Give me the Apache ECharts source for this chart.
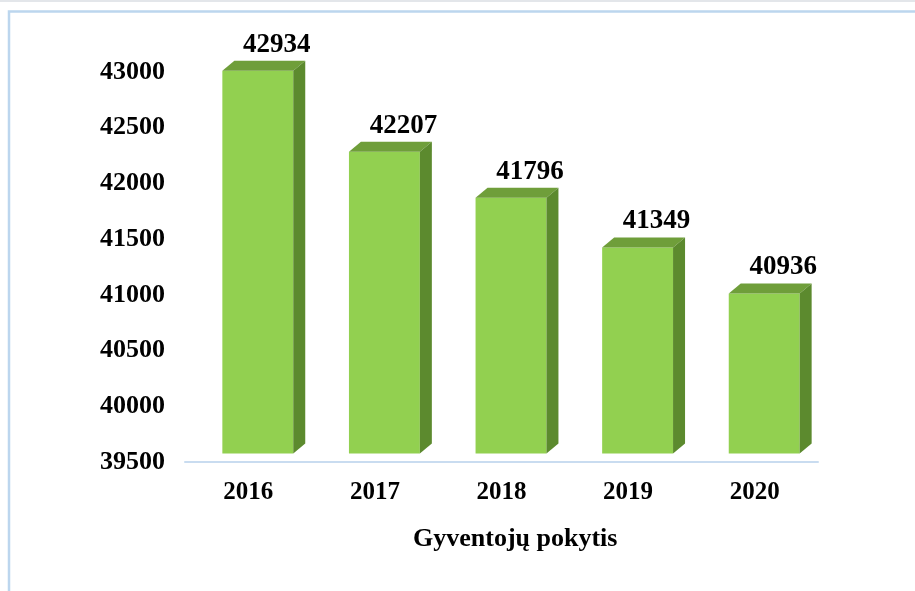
<!DOCTYPE html>
<html>
<head>
<meta charset="utf-8">
<script src="https://cdn.jsdelivr.net/npm/echarts@6/dist/echarts.min.js"></script>
<style>
  html, body { margin: 0; padding: 0; background: #fff; }
  #chart { width: 915px; height: 591px; }
</style>
</head>
<body>
<div id="chart"></div>
<script>
// Duomenys
const years = ['2016', '2017', '2018', '2019', '2020'];
const population = [42934, 42207, 41796, 41349, 40936];
const axisMin = 39500;
const axisMax = 43000;
const axisStep = 500;

const FONT = '"Liberation Serif", "Times New Roman", serif';

// 3D stulpelio piešimas (priekis, viršus, šonas)
function renderBar3d(params, api) {
    const idx = api.value(0);
    const val = api.value(1);
    const top = api.coord([idx, val]);
    const base = api.coord([idx, axisMin]);
    const bw = api.size([1, 0])[0] * 0.56;
    const lift = 8.5, dx = 12, dy = 10;
    const cx = top[0] + 9.5;
    const L = cx - bw / 2, R = cx + bw / 2;
    const T = top[1] - lift, B = base[1] - lift;

    return {
        type: 'group',
        children: [
            {
                type: 'rect',
                shape: { x: L, y: T, width: bw, height: B - T },
                style: { fill: '#92d050' }
            },
            {
                type: 'polygon',
                shape: { points: [[L, T], [R, T], [R + dx, T - dy], [L + dx, T - dy]] },
                style: { fill: '#6f9e3a' }
            },
            {
                type: 'polygon',
                shape: { points: [[R, T], [R + dx, T - dy], [R + dx, B - dy], [R, B]] },
                style: { fill: '#5c8a2e' }
            },
            {
                type: 'text',
                style: {
                    x: cx + 19, y: T - 26,
                    text: String(val),
                    fill: '#000',
                    font: 'bold 27px ' + FONT,
                    align: 'center', verticalAlign: 'middle'
                }
            }
        ]
    };
}

const chart = echarts.init(document.getElementById('chart'));

chart.setOption({
    backgroundColor: '#fff',
    animation: false,
    title: {
        text: 'Gyventojų pokytis',
        left: 408,
        top: 521,
        textStyle: { fontFamily: FONT, fontWeight: 'bold', fontSize: 26, color: '#000' }
    },
    grid: { left: 185, right: 97, top: 72, bottom: 129 },
    xAxis: {
        type: 'category',
        data: years,
        axisLine: { show: true, lineStyle: { color: '#c9dcf0', width: 2 } },
        axisTick: { show: false },
        axisLabel: {
            margin: 18,
            fontFamily: FONT, fontWeight: 'bold', fontSize: 25, color: '#000'
        }
    },
    yAxis: {
        type: 'value',
        min: axisMin,
        max: axisMax,
        interval: axisStep,
        axisLine: { show: false },
        axisTick: { show: false },
        splitLine: { show: false },
        axisLabel: {
            margin: 20,
            formatter: v => String(v),
            fontFamily: FONT, fontWeight: 'bold', fontSize: 26, color: '#000'
        }
    },
    graphic: [
        // rėmelis
        { type: 'line', shape: { x1: 0, y1: 1, x2: 915, y2: 1 }, style: { stroke: '#e3e6ea', lineWidth: 2 } },
        { type: 'polyline', shape: { points: [[9, 591], [9, 11.5], [915, 11.5]] }, style: { stroke: '#bcd6ee', lineWidth: 2.5, fill: null } }
    ],
    series: [{
        type: 'custom',
        renderItem: renderBar3d,
        encode: { x: 0, y: 1 },
        data: population.map((v, i) => [i, v])
    }]
});
</script>
</body>
</html>
